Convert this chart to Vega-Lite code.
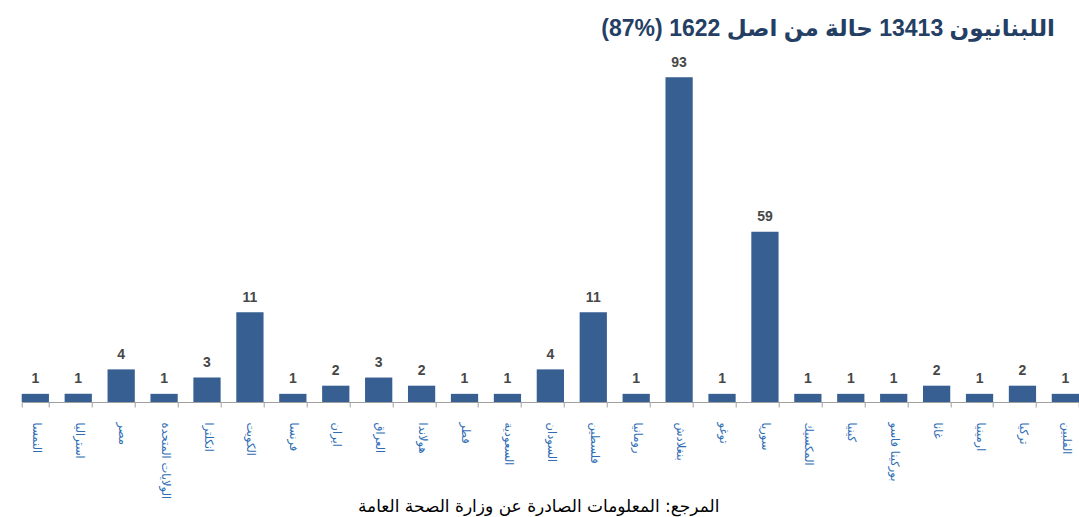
{
  "$schema": "https://vega.github.io/schema/vega-lite/v6.json",
  "width": 1057.3,
  "height": 324.7,
  "autosize": {"type": "none"},
  "padding": {"left": 21.7, "top": 77.3, "right": 0, "bottom": 115},
  "background": "white",
  "title": {
    "text": "\u202bاللبنانيون 13413 حالة من اصل 1622 (\u202a87%\u202c)\u202c",
    "anchor": "end",
    "frame": "group",
    "orient": "top",
    "offset": 15,
    "dx": -24,
    "font": "Liberation Sans, DejaVu Sans",
    "fontSize": 23,
    "fontWeight": "bold",
    "color": "#243E64"
  },
  "data": {
    "values": [
      {"country": "النمسا", "cases": 1},
      {"country": "استراليا", "cases": 1},
      {"country": "مصر", "cases": 4},
      {"country": "الولايات المتحدة", "cases": 1},
      {"country": "انكلترا", "cases": 3},
      {"country": "الكويت", "cases": 11},
      {"country": "فرنسا", "cases": 1},
      {"country": "ايران", "cases": 2},
      {"country": "العراق", "cases": 3},
      {"country": "هولاندا", "cases": 2},
      {"country": "قطر", "cases": 1},
      {"country": "السعودية", "cases": 1},
      {"country": "السودان", "cases": 4},
      {"country": "فلسطين", "cases": 11},
      {"country": "رومانيا", "cases": 1},
      {"country": "بنغلادش", "cases": 93},
      {"country": "توغو", "cases": 1},
      {"country": "سوريا", "cases": 59},
      {"country": "المكسيك", "cases": 1},
      {"country": "كينيا", "cases": 1},
      {"country": "بوركينا فاسو", "cases": 1},
      {"country": "غانا", "cases": 2},
      {"country": "ارمينيا", "cases": 1},
      {"country": "تركيا", "cases": 2},
      {"country": "الفلبين", "cases": 1}
    ]
  },
  "encoding": {
    "x": {
      "field": "country",
      "type": "nominal",
      "sort": null,
      "scale": {"paddingInner": 0.365, "paddingOuter": 0},
      "axis": {
        "title": "المرجع: المعلومات الصادرة عن وزارة الصحة العامة",
        "titleFont": "DejaVu Sans",
        "titleFontSize": 17,
        "titleFontWeight": "normal",
        "titleColor": "#000000",
        "titleX": 516.5,
        "titleY": 109,
        "titleBaseline": "alphabetic",
        "labelAngle": 90,
        "labelAlign": "left",
        "labelBaseline": "middle",
        "labelPadding": 15,
        "labelFont": "DejaVu Sans",
        "labelFontSize": 11.5,
        "labelColor": "#2E6DB4",
        "labelOverlap": false,
        "labelLimit": 300,
        "tickBand": "extent",
        "tickSize": 5,
        "tickColor": "#A0A0A0",
        "domainColor": "#A0A0A0"
      }
    },
    "y": {
      "field": "cases",
      "type": "quantitative",
      "scale": {"domain": [0, 11, 59, 93], "range": [324.7, 235, 154.4, 0], "nice": false},
      "axis": null
    }
  },
  "layer": [
    {"mark": {"type": "bar", "color": "#375F92"}},
    {
      "mark": {"type": "text", "baseline": "alphabetic", "dy": -10.5, "font": "Liberation Sans", "fontSize": 14, "fontWeight": "bold", "color": "#474747"},
      "encoding": {"text": {"field": "cases", "type": "quantitative"}}
    }
  ],
  "config": {"view": {"stroke": null}}
}
